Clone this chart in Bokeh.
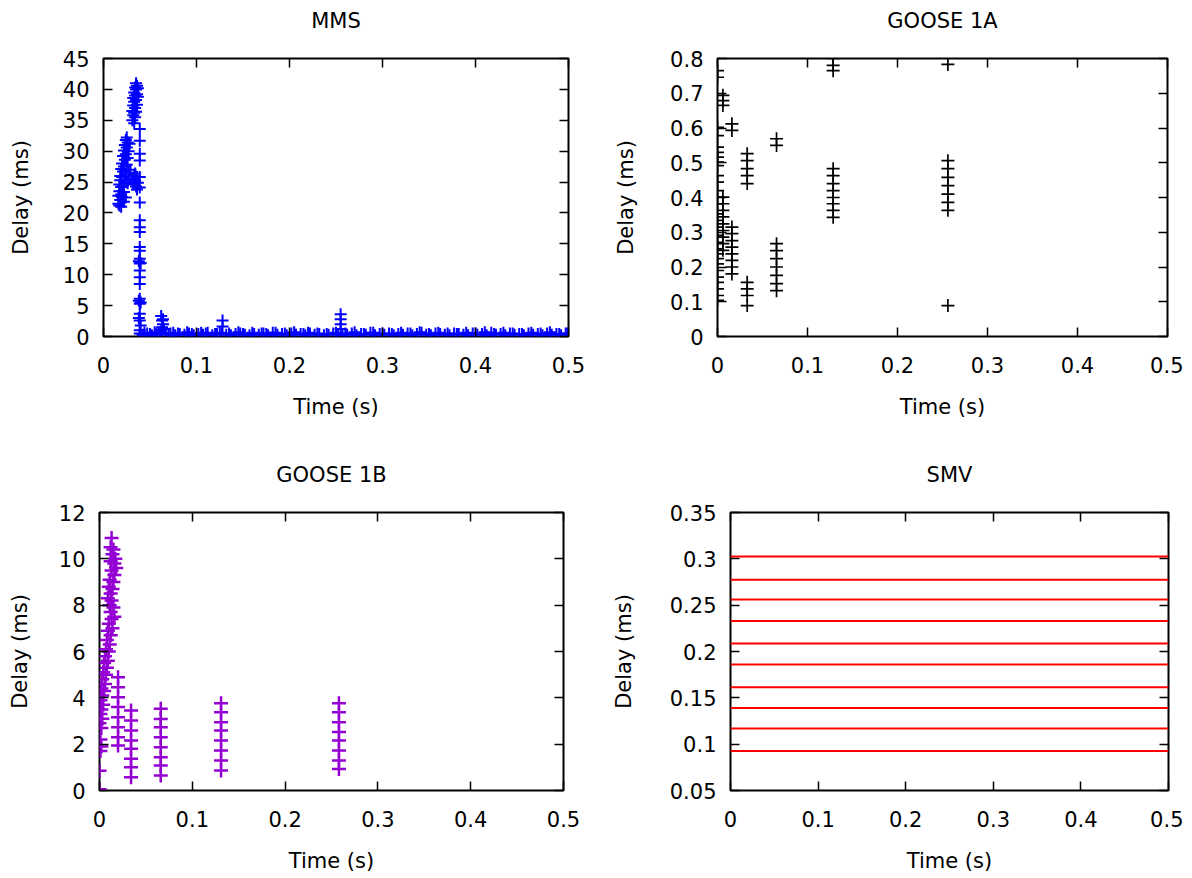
from bokeh.plotting import figure
from bokeh.layouts import column, row
from bokeh.models import Range1d, FixedTicker, LinearAxis, CustomJSTickFormatter
from bokeh.embed import file_html
from bokeh.resources import INLINE

FONT = "DejaVu Sans"
FS = "21px"

# ---------------- data ----------------
time_ticks = [0, 0.1, 0.2, 0.3, 0.4, 0.5]
time_labels = ["0", "0.1", "0.2", "0.3", "0.4", "0.5"]

mms_ticks = [0, 5, 10, 15, 20, 25, 30, 35, 40, 45]
mms_labels = ["0", "5", "10", "15", "20", "25", "30", "35", "40", "45"]
g1a_ticks = [0, 0.1, 0.2, 0.3, 0.4, 0.5, 0.6, 0.7, 0.8]
g1a_labels = ["0", "0.1", "0.2", "0.3", "0.4", "0.5", "0.6", "0.7", "0.8"]
g1b_ticks = [0, 2, 4, 6, 8, 10, 12]
g1b_labels = ["0", "2", "4", "6", "8", "10", "12"]
smv_ticks = [0.05, 0.1, 0.15, 0.2, 0.25, 0.3, 0.35]
smv_labels = ["0.05", "0.1", "0.15", "0.2", "0.25", "0.3", "0.35"]

# MMS: burst clusters (time s, delay ms)
mms_burst_t = [0.016, 0.016, 0.017, 0.017, 0.017, 0.018, 0.018, 0.018, 0.019, 0.019,
               0.019, 0.020, 0.020, 0.020, 0.021, 0.021, 0.021, 0.022, 0.022, 0.022,
               0.023, 0.023, 0.023, 0.024, 0.024, 0.024, 0.025, 0.025, 0.025, 0.026,
               0.026, 0.027, 0.027, 0.028, 0.019, 0.022, 0.024, 0.026, 0.028, 0.029,
               0.031, 0.031, 0.032, 0.032, 0.032, 0.033, 0.033, 0.033, 0.034, 0.034,
               0.034, 0.034, 0.035, 0.035, 0.035, 0.035, 0.036, 0.036, 0.036, 0.037,
               0.037, 0.033,
               0.031, 0.032, 0.033, 0.034, 0.035, 0.036, 0.037, 0.036, 0.034]
mms_burst_y = [21.5, 22.8, 21.2, 23.5, 24.6, 22.1, 25.3, 26.0, 23.0, 24.2,
               27.1, 22.6, 25.8, 28.0, 24.5, 26.7, 29.2, 23.4, 27.5, 30.1,
               25.1, 28.6, 31.0, 26.2, 29.5, 31.8, 27.8, 30.6, 32.2, 28.9,
               31.4, 30.0, 26.5, 31.2, 21.0, 21.8, 22.5, 24.8, 25.5, 27.0,
               35.0, 36.5, 35.8, 37.4, 38.6, 36.2, 38.0, 39.5, 35.5, 37.0,
               39.0, 40.3, 36.4, 38.3, 40.0, 41.0, 37.5, 39.2, 40.6, 38.8,
               40.2, 34.5,
               25.5, 24.6, 26.0, 25.2, 24.3, 25.8, 24.9, 23.8, 26.4]
# MMS: decay column and isolated retransmissions
mms_col_t = [0.039, 0.039, 0.039, 0.039, 0.039, 0.039, 0.039, 0.039, 0.039, 0.039,
             0.039, 0.039, 0.039, 0.039, 0.039, 0.039, 0.039, 0.039, 0.039, 0.039,
             0.039, 0.039, 0.038, 0.040, 0.038, 0.040, 0.038, 0.040, 0.039,
             0.062, 0.063, 0.064, 0.063, 0.062, 0.065, 0.064,
             0.128, 0.128, 0.255, 0.255, 0.255, 0.255]
mms_col_y = [33.6, 31.7, 29.6, 28.5, 25.8, 24.1, 21.7, 18.8, 17.7, 16.9,
             14.5, 13.9, 12.6, 11.8, 10.7, 9.6, 8.5, 6.1, 5.3, 3.7,
             2.6, 1.0, 12.2, 11.9, 5.8, 5.5, 3.0, 1.8, 0.5,
             3.3, 2.6, 2.0, 1.5, 1.0, 1.2, 2.8,
             2.6, 1.6, 3.6, 2.8, 2.0, 1.2]
# MMS: steady-state band
mms_band_t = [0.042, 0.047, 0.052, 0.057, 0.062, 0.067, 0.072, 0.077, 0.082, 0.087,
              0.092, 0.097, 0.102, 0.107, 0.112, 0.117, 0.122, 0.127, 0.132, 0.137,
              0.142, 0.147, 0.152, 0.157, 0.162, 0.167, 0.172, 0.177, 0.182, 0.187,
              0.192, 0.197, 0.202, 0.207, 0.212, 0.217, 0.222, 0.227, 0.232, 0.237,
              0.242, 0.247, 0.252, 0.257, 0.262, 0.267, 0.272, 0.277, 0.282, 0.287,
              0.292, 0.297, 0.302, 0.307, 0.312, 0.317, 0.322, 0.327, 0.332, 0.337,
              0.342, 0.347, 0.352, 0.357, 0.362, 0.367, 0.372, 0.377, 0.382, 0.387,
              0.392, 0.397, 0.402, 0.407, 0.412, 0.417, 0.422, 0.427, 0.432, 0.437,
              0.442, 0.447, 0.452, 0.457, 0.462, 0.467, 0.472, 0.477, 0.482, 0.487,
              0.492, 0.497,
              0.044, 0.050, 0.055, 0.060, 0.070, 0.075, 0.080, 0.090, 0.095, 0.105,
              0.110, 0.120, 0.125, 0.135, 0.145, 0.150, 0.160, 0.170, 0.175, 0.185,
              0.195, 0.205, 0.215, 0.220, 0.230, 0.240, 0.250, 0.260, 0.270, 0.280,
              0.290, 0.300, 0.310, 0.320, 0.330, 0.340, 0.350, 0.360, 0.370, 0.380,
              0.390, 0.400, 0.410, 0.420, 0.430, 0.440, 0.450, 0.460, 0.470, 0.480,
              0.490, 0.499]
mms_band_y = [0.3, 0.5, 0.2, 0.4, 0.6, 0.3, 0.5, 0.2, 0.4, 0.3,
              0.5, 0.2, 0.4, 0.3, 0.6, 0.2, 0.4, 0.5, 0.3, 0.2,
              0.4, 0.5, 0.3, 0.2, 0.4, 0.3, 0.5, 0.2, 0.6, 0.3,
              0.4, 0.2, 0.5, 0.3, 0.4, 0.2, 0.5, 0.3, 0.4, 0.2,
              0.3, 0.5, 0.4, 0.2, 0.3, 0.5, 0.2, 0.4, 0.3, 0.6,
              0.2, 0.4, 0.3, 0.5, 0.2, 0.4, 0.3, 0.5, 0.2, 0.4,
              0.6, 0.3, 0.2, 0.5, 0.4, 0.3, 0.2, 0.5, 0.4, 0.3,
              0.2, 0.5, 0.3, 0.4, 0.2, 0.6, 0.3, 0.4, 0.2, 0.5,
              0.3, 0.4, 0.2, 0.5, 0.3, 0.4, 0.2, 0.5, 0.3, 0.4,
              0.2, 0.5,
              0.6, 0.4, 0.7, 0.5, 0.4, 0.6, 0.5, 0.7, 0.4, 0.6,
              0.5, 0.4, 0.6, 0.5, 0.7, 0.4, 0.6, 0.5, 0.4, 0.6,
              0.5, 0.7, 0.4, 0.6, 0.5, 0.4, 0.6, 0.5, 0.7, 0.4,
              0.6, 0.5, 0.4, 0.6, 0.5, 0.7, 0.4, 0.6, 0.5, 0.4,
              0.6, 0.5, 0.7, 0.4, 0.6, 0.5, 0.4, 0.6, 0.5, 0.7,
              0.4, 0.5]

# GOOSE 1A (time s, delay ms)
g1a_t = [0.0] * 29 + [0.006, 0.006, 0.006, 0.006, 0.006, 0.006, 0.006, 0.006, 0.006, 0.006,
                      0.006, 0.006,
                      0.016, 0.016, 0.016, 0.016, 0.016, 0.016, 0.016, 0.016, 0.016, 0.016,
                      0.033, 0.033, 0.033, 0.033, 0.033, 0.033, 0.033, 0.033, 0.033,
                      0.0656, 0.0656, 0.0656, 0.0656, 0.0656, 0.0656, 0.0656, 0.0656, 0.0656,
                      0.1285, 0.1285, 0.1285, 0.1285, 0.1285, 0.1285, 0.1285, 0.1285, 0.1285,
                      0.1285, 0.1285,
                      0.256, 0.256, 0.256, 0.256, 0.256, 0.256, 0.256, 0.256, 0.256]
g1a_y = [0.765, 0.746, 0.602, 0.578, 0.545, 0.530, 0.516, 0.502, 0.492, 0.463,
         0.444, 0.420, 0.401, 0.382, 0.353, 0.334, 0.315, 0.291, 0.271, 0.252,
         0.238, 0.224, 0.209, 0.190, 0.171, 0.156, 0.137, 0.118, 0.104,
         0.694, 0.679, 0.665, 0.401, 0.382, 0.363, 0.344, 0.324, 0.305, 0.286,
         0.267, 0.248,
         0.612, 0.593, 0.315, 0.296, 0.276, 0.257, 0.238, 0.219, 0.200, 0.180,
         0.526, 0.506, 0.483, 0.463, 0.440, 0.156, 0.137, 0.118, 0.089,
         0.569, 0.550, 0.267, 0.247, 0.224, 0.200, 0.176, 0.152, 0.132,
         0.800, 0.780, 0.765, 0.483, 0.463, 0.440, 0.420, 0.400, 0.382, 0.363,
         0.343,
         0.783, 0.506, 0.483, 0.458, 0.434, 0.410, 0.386, 0.363, 0.089]

# GOOSE 1B (time s, delay ms)
g1b_t = [0.013, 0.012, 0.015, 0.014, 0.017, 0.012, 0.016, 0.018, 0.013, 0.016,
         0.011, 0.015, 0.010, 0.014, 0.012, 0.009, 0.013, 0.011, 0.015, 0.012,
         0.016, 0.013, 0.010, 0.014, 0.009, 0.012, 0.008, 0.011, 0.007, 0.010,
         0.006, 0.009, 0.005, 0.008, 0.004, 0.007, 0.003, 0.006, 0.002, 0.005,
         0.003, 0.001, 0.004, 0.002, 0.001, 0.003, 0.000, 0.002, 0.001, 0.002,
         0.001, 0.000, 0.000,
         0.020, 0.020, 0.020, 0.020, 0.020, 0.020, 0.020, 0.020,
         0.034, 0.034, 0.034, 0.034, 0.034, 0.034, 0.034, 0.034,
         0.066, 0.066, 0.066, 0.066, 0.066, 0.066, 0.066, 0.066,
         0.131, 0.131, 0.131, 0.131, 0.131, 0.131, 0.131, 0.131,
         0.258, 0.258, 0.258, 0.258, 0.258, 0.258, 0.258, 0.258]
g1b_y = [10.9, 10.5, 10.4, 10.2, 10.0, 9.9, 9.8, 9.6, 9.5, 9.3,
         9.1, 9.0, 8.8, 8.7, 8.5, 8.3, 8.2, 8.0, 7.9, 7.7,
         7.5, 7.4, 7.2, 7.0, 6.9, 6.7, 6.5, 6.3, 6.1, 6.0,
         5.8, 5.6, 5.5, 5.3, 5.1, 5.0, 4.8, 4.6, 4.4, 4.3,
         4.1, 3.9, 3.7, 3.5, 3.3, 3.1, 2.9, 2.7, 2.2, 1.9,
         1.7, 0.85, 0.05,
         4.89, 4.46, 4.03, 3.60, 3.16, 2.73, 2.30, 1.94,
         3.45, 3.02, 2.59, 2.16, 1.80, 1.37, 1.00, 0.57,
         3.53, 3.09, 2.73, 2.30, 1.87, 1.44, 1.08, 0.65,
         3.77, 3.38, 2.95, 2.59, 2.16, 1.73, 1.29, 0.86,
         3.77, 3.38, 2.95, 2.52, 2.16, 1.73, 1.29, 0.93]

# SMV: constant delay levels over the whole record
smv_levels = [0.0925, 0.117, 0.139, 0.1615, 0.186, 0.2085, 0.233, 0.256, 0.2775, 0.3025]
smv_t = [0.0, 0.5]


# ---------------- figures ----------------
def make_fig(title, width, height, bl, br, bt, bb, xr, yr, yticks, ylabels, ylab_standoff):
    p = figure(width=width, height=height, output_backend="svg", toolbar_location=None,
               x_range=Range1d(*xr), y_range=Range1d(*yr),
               min_border_left=bl, min_border_right=br, min_border_top=bt, min_border_bottom=bb)
    p.title.text = title
    p.title.text_font = FONT
    p.title.text_font_size = FS
    p.title.text_font_style = "normal"
    p.title.text_color = "black"
    p.title.align = "center"
    p.title.standoff = 52
    p.xgrid.visible = False
    p.ygrid.visible = False
    p.outline_line_color = "black"
    p.outline_line_width = 2
    p.outline_line_alpha = 1.0
    p.background_fill_color = "white"
    p.border_fill_color = "white"

    xa = p.xaxis[0]
    xa.ticker = FixedTicker(ticks=time_ticks)
    xa.major_label_overrides = dict(zip(time_ticks, time_labels))
    xa.axis_label = "Time (s)"
    xa.major_label_standoff = 20
    xa.axis_label_standoff = 19
    ya = p.yaxis[0]
    ya.ticker = FixedTicker(ticks=yticks)
    ya.major_label_overrides = dict(zip(yticks, ylabels))
    ya.axis_label = "Delay (ms)"
    ya.major_label_standoff = 14
    ya.axis_label_standoff = ylab_standoff

    top = LinearAxis(ticker=FixedTicker(ticks=time_ticks),
                     formatter=CustomJSTickFormatter(code="return ''"))
    right = LinearAxis(ticker=FixedTicker(ticks=yticks),
                       formatter=CustomJSTickFormatter(code="return ''"))
    p.add_layout(top, "above")
    p.add_layout(right, "right")

    for ax in (xa, ya, top, right):
        ax.axis_line_color = None
        ax.major_tick_in = 9
        ax.major_tick_out = 0
        ax.major_tick_line_color = "black"
        ax.major_tick_line_width = 1.5
        ax.minor_tick_line_color = None
        ax.major_label_text_font = FONT
        ax.major_label_text_font_size = FS
        ax.major_label_text_color = "black"
        ax.axis_label_text_font = FONT
        ax.axis_label_text_font_size = FS
        ax.axis_label_text_font_style = "normal"
        ax.axis_label_text_color = "black"
    top.major_label_standoff = 0
    right.major_label_standoff = 0
    return p


p1 = make_fig("MMS", 608, 454, 103, 40, 78, 98, (0, 0.5), (0, 45), mms_ticks, mms_labels, 27)
p1.scatter(mms_band_t, mms_band_y, marker="cross", size=12, line_color="#0000ff", line_width=2)
p1.scatter(mms_burst_t, mms_burst_y, marker="cross", size=12, line_color="#0000ff", line_width=2)
p1.scatter(mms_col_t, mms_col_y, marker="cross", size=12, line_color="#0000ff", line_width=2)

p2 = make_fig("GOOSE 1A", 575, 454, 109, 16, 78, 98, (0, 0.5), (0, 0.8), g1a_ticks, g1a_labels, 29)
p2.scatter(g1a_t, g1a_y, marker="cross", size=13, line_color="black", line_width=1.7)

p3 = make_fig("GOOSE 1B", 608, 441, 99, 45, 78, 85, (0, 0.5), (0, 12), g1b_ticks, g1b_labels, 24)
p3.scatter(g1b_t, g1b_y, marker="cross", size=14, line_color="#9400d3", line_width=2.5)

p4 = make_fig("SMV", 575, 441, 122, 15, 78, 85, (0, 0.5), (0.05, 0.35), smv_ticks, smv_labels, 31)
p4.segment(x0=[smv_t[0]] * len(smv_levels), x1=[smv_t[1]] * len(smv_levels),
           y0=smv_levels, y1=smv_levels, line_color="#ff0000", line_width=2)

# pull the first row up so the frames sit where the reference frames are
p1.margin = (-20, 0, 0, 0)
p2.margin = (-20, 0, 0, 0)

layout = column(row(p1, p2), row(p3, p4))

with open("out.html", "w") as f:
    f.write(file_html(layout, INLINE))
